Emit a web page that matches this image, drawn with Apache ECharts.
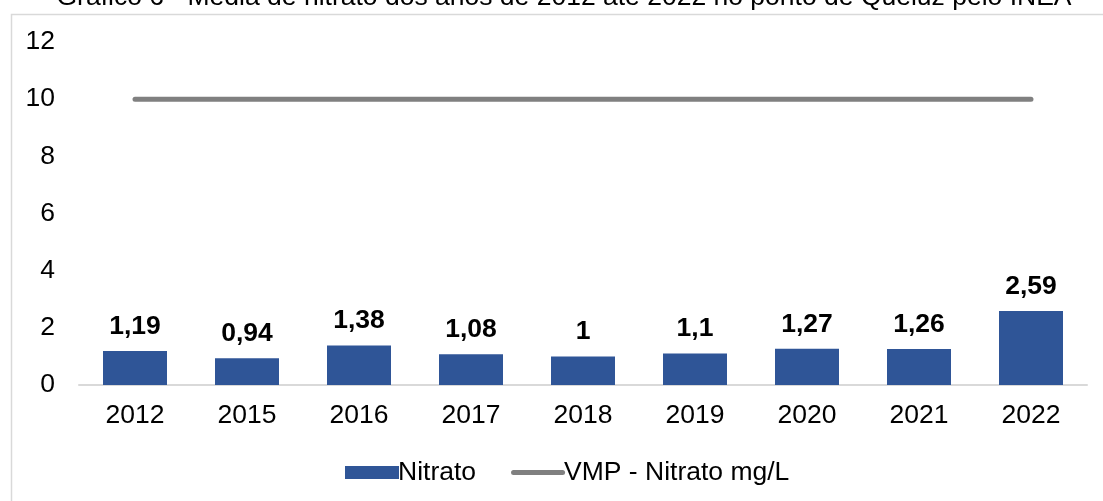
<!DOCTYPE html>
<html><head><meta charset="utf-8">
<script src="https://cdn.jsdelivr.net/npm/echarts@6/dist/echarts.min.js"></script>
<style>html,body{margin:0;padding:0;background:#fff}#c{width:1103px;height:501px}</style>
</head><body><div id="c"></div>
<script>
const categories = ['2012','2015','2016','2017','2018','2019','2020','2021','2022'];
const nitrato = [1.19, 0.94, 1.38, 1.08, 1, 1.1, 1.27, 1.26, 2.59];
const vmp = [10, 10, 10, 10, 10, 10, 10, 10, 10];
const yTicks = [0, 2, 4, 6, 8, 10, 12];
const titleText = 'Gráfico 6 - Média de nitrato dos anos de 2012 até 2022 no ponto de Queluz pelo INEA';

const font = '"Liberation Sans", Arial, sans-serif';
const fs = 26.5;
const chart = echarts.init(document.getElementById('c'));
chart.setOption({
  animation: false,
  backgroundColor: '#fff',
  textStyle: { fontFamily: font },
  graphic: [{
    type: 'rect', left: 9, top: 12, z: -1,
    shape: { width: 1110, height: 500 },
    style: { fill: 'none', stroke: '#d9d9d9', lineWidth: 1.5 }
  }, {
    type: 'text', x: 564, y: 11, z: 10,
    style: { text: titleText, align: 'center', verticalAlign: 'bottom',
             font: 'normal ' + fs + 'px ' + font, fill: '#000' }
  }],
  legend: {
    top: 454, left: 340, itemGap: 35,
    itemWidth: 54, itemHeight: 13,
    textStyle: { fontFamily: font, fontSize: fs, color: '#000', padding: [0,0,0,-6] },
    data: [
      { name: 'Nitrato', icon: 'rect' },
      { name: 'VMP - Nitrato mg/L',
        icon: 'path://M2.5,0 L51.5,0 A2.5,2.5 0 0 1 51.5,5 L2.5,5 A2.5,2.5 0 0 1 2.5,0 Z',
        itemStyle: { color: '#808080' } }
    ]
  },
  grid: { left: 79, right: 16, top: 42, bottom: 116 },
  xAxis: {
    type: 'category', data: categories,
    axisLine: { lineStyle: { color: '#d9d9d9', width: 2 } },
    axisTick: { show: false },
    axisLabel: { color: '#000', fontSize: fs, fontFamily: font, margin: 17 }
  },
  yAxis: {
    type: 'value', min: yTicks[0], max: yTicks[yTicks.length-1], interval: 2,
    splitLine: { show: false },
    axisLine: { show: false }, axisTick: { show: false },
    axisLabel: { color: '#000', fontSize: fs, fontFamily: font, margin: 24 }
  },
  series: [{
    name: 'Nitrato', type: 'bar', data: nitrato, barWidth: 64,
    itemStyle: { color: '#2f5597' },
    label: {
      show: true, position: 'top', distance: 11,
      fontSize: fs, fontWeight: 'bold', color: '#000', fontFamily: font,
      formatter: p => String(p.value).replace('.', ',')
    }
  }, {
    name: 'VMP - Nitrato mg/L', type: 'line', data: vmp,
    symbol: 'none',
    lineStyle: { color: '#808080', width: 5, cap: 'round' },
    itemStyle: { color: '#808080' }
  }]
});
</script></body></html>
